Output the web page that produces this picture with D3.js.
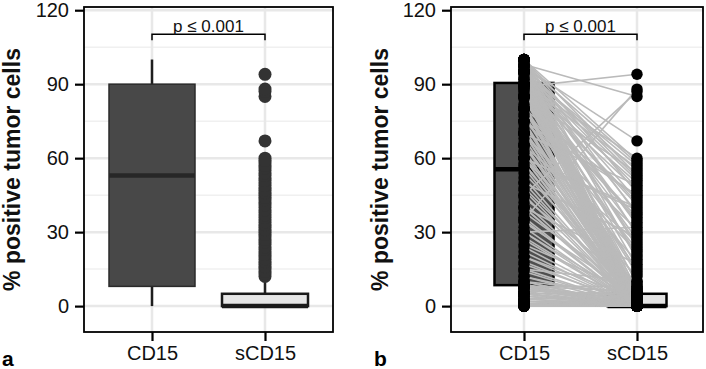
<!DOCTYPE html>
<html>
<head>
<meta charset="utf-8">
<script src="https://cdn.jsdelivr.net/npm/d3@7"></script>
<style>
  body { margin: 0; background: #fff; }
  text { font-family: "Liberation Sans", Arial, sans-serif; }
</style>
</head>
<body>
<div id="my_dataviz"></div>
<script>
// chart data
const categories = ["CD15", "sCD15"]
const yTicks = [0, 30, 60, 90, 120]
const yMinor = [15, 45, 75, 105]
const pLabel = "p \u2264 0.001"
const panelLetters = ["a", "b"]

// paired % positive tumor cells per case (CD15 vs sCD15)
const cd15 = [
  0,0,0,0,0,0,0,0,0,0,0,0,1,1,1,1,2,2,2,2,3,3,3,4,4,5,5,5,5,5,6,6,7,7,8,8,8,8,8,8,
  9,10,10,10,12,12,14,15,15,17,18,20,20,22,24,25,27,28,30,30,32,34,35,36,38,40,40,42,44,45,47,48,50,52,54,
  56,57,58,60,60,62,63,65,65,66,68,70,70,71,72,74,75,75,77,78,80,80,81,82,84,85,85,86,87,88,88,89,89,
  90,90,90,90,90,90,90,90,90,90,90,90,92,92,93,94,95,95,95,96,97,98,99,100,100,100,100,
  60,80,40,90,70,95,50,90,30,85,95,60,90,75,95,90,97,95,98,90,97,98,45,35,89,
  85,90,95,70,100,90,80,95,65,90,100,75,95,90,85,100,60,90,95,80,100,90,70,95,100,85,90,95,100
]
const scd15 = [
  0,0,0,0,0,0,0,0,0,0,0,0,0,0,1,0,0,2,0,0,0,3,0,0,2,0,5,0,1,0,0,5,0,3,0,8,0,2,0,6,
  0,0,5,0,2,0,0,10,0,1,0,0,3,0,0,5,0,0,2,0,0,4,0,0,5,0,1,0,7,0,0,3,0,0,5,
  0,5,0,0,2,0,0,8,0,0,1,0,0,5,0,0,3,0,6,0,0,2,0,0,10,0,0,5,0,1,0,0,4,
  0,0,5,0,0,1,0,7,0,0,3,0,0,2,0,5,0,0,9,0,1,0,0,6,0,2,0,
  12,15,17,20,22,25,28,30,32,35,38,40,42,45,48,50,52,55,58,60,67,85,87,88,94,
  13,14,16,18,19,21,23,24,26,27,29,31,33,34,36,37,39,41,43,44,46,47,49,51,53,54,56,57,59
]

// box summaries: [lower whisker, q1, median, q3, upper whisker]
const boxA = [[0, 8, 53, 90, 100], [0, 0, 0, 5, 10]]
const boxB = [[0, 8.5, 55.5, 90.5, 100], [0, 0, 0, 5, 10]]

const width = 706
const height = 369

const svg = d3.select("#my_dataviz")
  .append("svg")
    .attr("width", width)
    .attr("height", height)

const y = d3.scaleLinear().domain([-10.5, 121.3]).range([332, 7])

const pairs = cd15.map((v, i) => ({ cd15: v, scd15: scd15[i] }))

function drawPanel(opt) {
  const x = d3.scalePoint().domain(categories).range(opt.xr)
  const g = svg.append("g")

  // background grid
  g.append("rect")
    .attr("x", opt.left).attr("y", y.range()[1])
    .attr("width", opt.right - opt.left).attr("height", y.range()[0] - y.range()[1])
    .attr("fill", "#fff")
  g.selectAll(".minor").data(yMinor).join("line")
    .attr("x1", opt.left).attr("x2", opt.right)
    .attr("y1", d => y(d)).attr("y2", d => y(d))
    .attr("stroke", "#f0f0f0").attr("stroke-width", 1.5)
  g.selectAll(".major").data(yTicks).join("line")
    .attr("x1", opt.left).attr("x2", opt.right)
    .attr("y1", d => y(d)).attr("y2", d => y(d))
    .attr("stroke", "#e8e8e8").attr("stroke-width", 2.5)
  g.selectAll(".vgrid").data(categories).join("line")
    .attr("x1", d => x(d)).attr("x2", d => x(d))
    .attr("y1", y.range()[1]).attr("y2", y.range()[0])
    .attr("stroke", "#e8e8e8").attr("stroke-width", 2.5)

  // boxes
  opt.boxes.forEach((b, i) => {
    const cx = x(categories[i])
    const st = opt.style[i]
    g.append("line")
      .attr("x1", cx).attr("x2", cx).attr("y1", y(b[3])).attr("y2", y(b[4]))
      .attr("stroke", st.whisker).attr("stroke-width", 2.5)
    g.append("line")
      .attr("x1", cx).attr("x2", cx).attr("y1", y(b[1])).attr("y2", y(b[0]))
      .attr("stroke", st.whisker).attr("stroke-width", 2.5)
    g.append("rect")
      .attr("x", cx - opt.boxW / 2).attr("width", opt.boxW)
      .attr("y", y(b[3])).attr("height", y(b[1]) - y(b[3]))
      .attr("fill", st.fill).attr("stroke", st.stroke).attr("stroke-width", st.sw)
    g.append("line")
      .attr("x1", cx - opt.boxW / 2).attr("x2", cx + opt.boxW / 2)
      .attr("y1", y(b[2])).attr("y2", y(b[2]))
      .attr("stroke", st.median).attr("stroke-width", 4.5)
  })

  if (opt.paired) {
    // one grey line per case, then every observation as a dot
    g.selectAll(".pair").data(pairs).join("line")
      .attr("x1", x("CD15")).attr("x2", x("sCD15"))
      .attr("y1", d => y(d.cd15)).attr("y2", d => y(d.scd15))
      .attr("stroke", "#bababa").attr("stroke-width", 1.6)
    g.selectAll(".p1").data(pairs).join("circle")
      .attr("cx", x("CD15")).attr("cy", d => y(d.cd15)).attr("r", 5.7)
      .attr("fill", "#000")
    g.selectAll(".p2").data(pairs).join("circle")
      .attr("cx", x("sCD15")).attr("cy", d => y(d.scd15)).attr("r", 5.7)
      .attr("fill", "#000")
  } else {
    // outliers beyond the sCD15 whisker
    const out = pairs.filter(d => d.scd15 > opt.boxes[1][4])
    g.selectAll(".out").data(out).join("circle")
      .attr("cx", x("sCD15")).attr("cy", d => y(d.scd15)).attr("r", 6.5)
      .attr("fill", "#333")
  }

  // significance bracket
  g.append("path")
    .attr("d", `M${x("CD15")},${y(107.8)}V${y(110.2)}H${x("sCD15")}V${y(107.8)}`)
    .attr("fill", "none").attr("stroke", "#000").attr("stroke-width", 1.5)
  g.append("text")
    .attr("x", (x("CD15") + x("sCD15")) / 2).attr("y", y(110.2) - 2.5)
    .attr("text-anchor", "middle").attr("font-size", 17).attr("fill", "#111")
    .text(pLabel)

  // panel border
  g.append("rect")
    .attr("x", opt.left).attr("y", y.range()[1])
    .attr("width", opt.right - opt.left).attr("height", y.range()[0] - y.range()[1])
    .attr("fill", "none").attr("stroke", "#000").attr("stroke-width", 1.8)

  // axes
  const ya = g.append("g")
    .attr("transform", `translate(${opt.left},0)`)
    .call(d3.axisLeft(y).tickValues(yTicks).tickSize(9).tickPadding(6))
  const xa = g.append("g")
    .attr("transform", `translate(0,${y.range()[0]})`)
    .call(d3.axisBottom(x).tickSize(9).tickPadding(5))
  ;[ya, xa].forEach(a => {
    a.select(".domain").remove()
    a.selectAll(".tick line").attr("stroke", "#000").attr("stroke-width", 2.2)
    a.selectAll(".tick text").attr("font-size", 20).attr("fill", "#111")
      .attr("font-family", "'Liberation Sans', Arial, sans-serif")
  })

  g.append("text")
    .attr("transform", `translate(${opt.labelX},${(y.range()[0] + y.range()[1]) / 2}) rotate(-90)`)
    .attr("text-anchor", "middle").attr("font-size", 23).attr("font-weight", "bold")
    .attr("fill", "#111")
    .text("% positive tumor cells")

  g.append("text")
    .attr("x", opt.letterX).attr("y", 366)
    .attr("font-size", 21).attr("font-weight", "bold")
    .attr("font-family", "'Open Sans', sans-serif")
    .text(opt.letter)
}

drawPanel({
  left: 84, right: 333, xr: [152, 265], boxW: 86, boxes: boxA, paired: false,
  labelX: 20, letterX: 2, letter: panelLetters[0],
  style: [
    { fill: "#484848", stroke: "#2a2a2a", sw: 1.5, median: "#272727", whisker: "#1e1e1e" },
    { fill: "#e6e6e6", stroke: "#1a1a1a", sw: 2.5, median: "#1a1a1a", whisker: "#222" }
  ]
})

drawPanel({
  left: 451, right: 703, xr: [524, 637], boxW: 59, boxes: boxB, paired: true,
  labelX: 388, letterX: 374, letter: panelLetters[1],
  style: [
    { fill: "#4f4f4f", stroke: "#000", sw: 2.5, median: "#000", whisker: "#000" },
    { fill: "#e3e3e3", stroke: "#000", sw: 2.5, median: "#000", whisker: "#000" }
  ]
})
</script>
</body>
</html>
